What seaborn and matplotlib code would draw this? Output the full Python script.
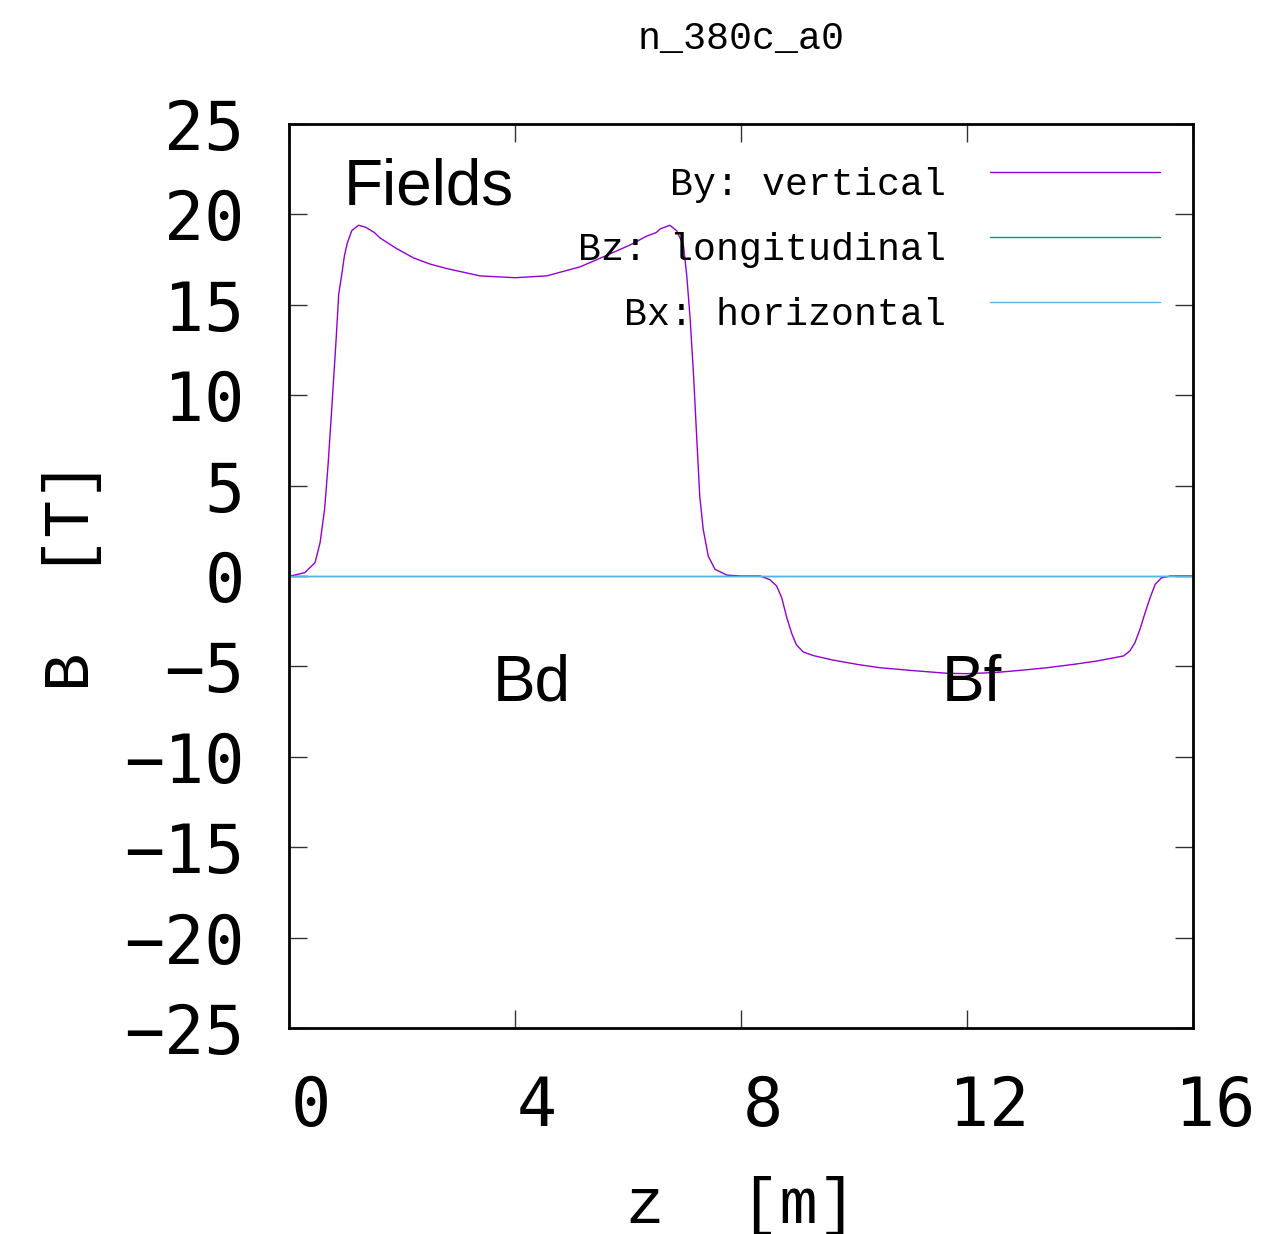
import numpy as np
import pandas as pd
import matplotlib
matplotlib.use("Agg")
import matplotlib.pyplot as plt
import matplotlib.transforms as mtransforms
import seaborn as sns

# Longitudinal position along the magnet string [m]
z_pos = [0.0, 0.08, 0.28, 0.46, 0.55, 0.63, 0.69, 0.755, 0.83, 0.88, 0.93, 0.98,
         1.03, 1.11, 1.23, 1.35, 1.51, 1.61, 1.91, 2.2, 2.5, 2.8, 3.38, 4.0,
         4.56, 5.15, 5.45, 5.74, 6.03, 6.33, 6.5, 6.57, 6.74, 6.86, 6.98, 7.04,
         7.10, 7.16, 7.22, 7.27, 7.33, 7.42, 7.54, 7.75, 8.0, 8.34, 8.51, 8.63,
         8.72, 8.81, 8.90, 8.98, 9.10, 9.28, 9.63, 10.08, 10.46, 11.0, 11.65,
         12.0, 12.53, 13.0, 13.42, 13.9, 14.3, 14.77, 14.88, 14.97, 15.06,
         15.15, 15.24, 15.33, 15.44, 15.6, 16.0]

# Vertical field By [T] (dipole Bd followed by Bf)
by_vals = [0.0, 0.04, 0.19, 0.74, 1.85, 3.7, 6.1, 9.2, 12.9, 15.6, 16.6, 17.7,
           18.4, 19.1, 19.4, 19.3, 19.0, 18.7, 18.1, 17.6, 17.25, 17.0, 16.6, 16.5,
           16.6, 17.1, 17.5, 17.9, 18.3, 18.8, 19.0, 19.2, 19.4, 19.1, 18.3, 16.6,
           14.2, 11.1, 7.4, 4.4, 2.6, 1.1, 0.37, 0.05, 0.0, 0.0, -0.2, -0.55,
           -1.2, -2.3, -3.2, -3.8, -4.2, -4.4, -4.65, -4.9, -5.07, -5.22, -5.38,
           -5.4, -5.33, -5.2, -5.07, -4.88, -4.7, -4.42, -4.15, -3.7, -2.95,
           -2.05, -1.2, -0.46, -0.1, 0.0, 0.0]

# Longitudinal and horizontal components are zero along the whole string
bz_vals = [0.0] * len(z_pos)
bx_vals = [0.0] * len(z_pos)

components = ["By: vertical", "Bz: longitudinal", "Bx: horizontal"]
colors = ["#9400d3", "#009e73", "#56b4e9"]

x_ticks = [0, 4, 8, 12, 16]
y_ticks = [25, 20, 15, 10, 5, 0, -5, -10, -15, -20, -25]

df = pd.concat([
    pd.DataFrame({"z": z_pos, "B": vals, "component": name})
    for name, vals in zip(components, [by_vals, bz_vals, bx_vals])
], ignore_index=True)

sns.set_theme(style="ticks")
plt.rcParams["font.family"] = ["DejaVu Sans Mono", "DejaVu Sans"]
plt.rcParams["axes.unicode_minus"] = True

fig = plt.figure(figsize=(12.61, 12.34), dpi=100)
ax = fig.add_axes([0.2292, 0.1669, 0.9461 - 0.2292, 0.8995 - 0.1669])

sns.lineplot(data=df, x="z", y="B", hue="component", hue_order=components,
             palette=dict(zip(components, colors)), estimator=None, sort=False,
             linewidth=1.0, legend=False, ax=ax)

ax.set_xlim(0, 16)
ax.set_ylim(-25, 25)
ax.set_xticks(x_ticks)
ax.set_yticks(y_ticks)

for s in ax.spines.values():
    s.set_linewidth(2.0)
    s.set_color("black")
    s.set_visible(True)

ax.tick_params(axis="both", which="major", direction="in", length=13, width=1.0,
               color="#333333", top=True, right=True, labelsize=48,
               labelcolor="black")
ax.tick_params(axis="x", pad=33)
ax.tick_params(axis="y", pad=32)

# shift the x tick labels slightly right of their ticks
shift = mtransforms.ScaledTranslation(0.22, 0, fig.dpi_scale_trans)
for lab in ax.get_xticklabels():
    lab.set_transform(lab.get_transform() + shift)

mono = "Liberation Mono"
ax.set_xlabel("z  [m]", fontsize=46, family=mono, labelpad=26, color="black")
ax.set_ylabel("B  [T]", fontsize=46, family=mono, labelpad=16, color="black")
ax.set_title("n_380c_a0", fontsize=27.5, family=mono, pad=54, color="black")

# legend: right-aligned labels with line samples to their right
for i, (name, col) in enumerate(zip(components, colors)):
    yb = 0.9215 - i * 0.0719
    yl = 0.9469 - i * 0.0719
    ax.text(0.7268, yb, name, transform=ax.transAxes, ha="right", va="baseline",
            fontsize=27.5, family=mono, color="black")
    ax.plot([0.7755, 0.9635], [yl, yl], transform=ax.transAxes, color=col,
            linewidth=1.0)

sans = "Liberation Sans"
ax.text(0.06, 0.93, "Fields", transform=ax.transAxes, ha="left", va="center",
        fontsize=46, family=sans, color="black")
ax.text(0.268, 0.381, "Bd", transform=ax.transAxes, ha="center", va="center",
        fontsize=46, family=sans, color="black")
ax.text(0.755, 0.381, "Bf", transform=ax.transAxes, ha="center", va="center",
        fontsize=46, family=sans, color="black")

fig.savefig("out.png", dpi=100, facecolor="white")
